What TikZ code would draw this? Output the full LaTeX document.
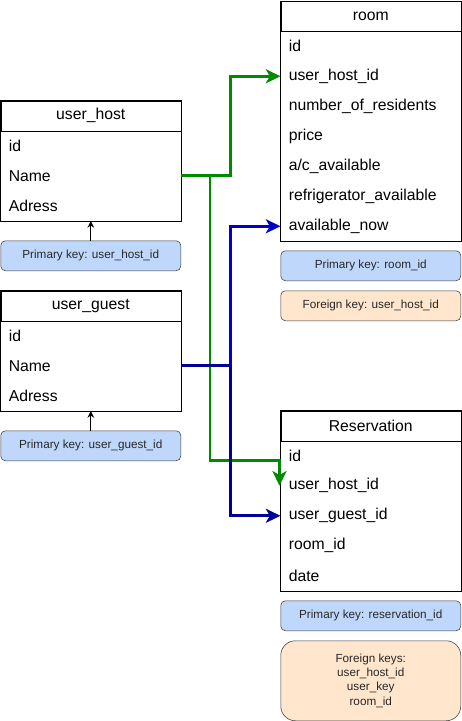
\documentclass[tikz,border=0pt]{standalone}
\usepackage{fontspec}
\setmainfont{Liberation Sans}
\usetikzlibrary{arrows.meta}

\definecolor{pkfill}{RGB}{190,215,251}
\definecolor{fkfill}{RGB}{255,230,204}
\definecolor{keyline}{RGB}{54,57,61}
\definecolor{keytext}{RGB}{40,40,40}
\definecolor{linkgreen}{RGB}{0,138,0}
\definecolor{linkblue}{RGB}{0,0,204}
\definecolor{linknavy}{RGB}{0,0,153}

\tikzset{
  tblhead/.style={draw, anchor=north west, minimum width=135pt, minimum height=22.5pt,
    inner sep=0pt, font=\fontsize{11.8}{13}\selectfont},
  tblrow/.style={anchor=north west, minimum height=22.5pt, inner ysep=0pt, inner xsep=6pt,
    text width=123pt, align=left, font=\fontsize{11.8}{13}\selectfont},
  pkbox/.style={draw=keyline, fill=pkfill, rounded corners=3.5pt, anchor=north west,
    minimum width=135pt, minimum height=22.5pt, inner sep=0pt, text=keytext,
    font=\fontsize{8.8}{10}\selectfont},
  fkbox/.style={pkbox, fill=fkfill},
  hostlink/.style={draw=linkgreen, line width=2pt, -{Stealth[length=11pt, width=10.5pt, inset=3pt]}},
  guestlink/.style={draw=linkblue, line width=2pt, -{Stealth[length=11pt, width=10.5pt, inset=3pt]}},
  keylink/.style={draw=black, line width=0.75pt, -{Stealth[length=5pt, width=5pt]}}
}

\begin{document}
\begin{tikzpicture}[x=0.75pt, y=-0.75pt]

\useasboundingbox (0,0) rectangle (461,721);

% room table
\node[tblhead] (room) at (280.5,1) {room};
\node[tblrow] (rmid) at (280.5,31) {id};
\node[tblrow] (rmhost) at (280.5,61) {user\_host\_id};
\node[tblrow] (rmres) at (280.5,91) {number\_of\_residents};
\node[tblrow] (rmprice) at (280.5,121) {price};
\node[tblrow] (rmac) at (280.5,151) {a/c\_available};
\node[tblrow] (rmfridge) at (280.5,181) {refrigerator\_available};
\node[tblrow] (rmavail) at (280.5,211) {available\_now};
\draw (room.north west) rectangle (rmavail.south east);

% room keys
\node[pkbox] (rmpk) at (280.5,250.5) {Primary key: room\_id};
\node[fkbox] (rmfk) at (280.5,290.5) {Foreign key: user\_host\_id};

% user_host table
\node[tblhead] (host) at (0.5,100.5) {user\_host};
\node[tblrow] (uhid) at (0.5,130.5) {id};
\node[tblrow] (uhname) at (0.5,160.5) {Name};
\node[tblrow] (uhaddr) at (0.5,190.5) {Adress};
\draw (host.north west) rectangle (uhaddr.south east);
\node[pkbox] (uhpk) at (0.5,240.5) {Primary key: user\_host\_id};

% user_guest table
\node[tblhead] (guest) at (0.5,290.5) {user\_guest};
\node[tblrow] (ugid) at (0.5,320.5) {id};
\node[tblrow] (ugname) at (0.5,350.5) {Name};
\node[tblrow] (ugaddr) at (0.5,380.5) {Adress};
\draw (guest.north west) rectangle (ugaddr.south east);
\node[pkbox] (ugpk) at (0.5,430.5) {Primary key: user\_guest\_id};

% Reservation table
\node[tblhead] (resv) at (280.5,410.5) {Reservation};
\node[tblrow] (rvid) at (280.5,440.5) {id};
\node[tblrow] (rvhost) at (280.5,470.5) {user\_host\_id};
\node[tblrow] (rvguest) at (280.5,500.5) {user\_guest\_id};
\node[tblrow] (rvroom) at (280.5,530.5) {room\_id};
\node[tblrow] (rvdate) at (280.5,560.5) {date};
\draw (resv.north west) rectangle (rvdate.south east);

% Reservation keys
\node[pkbox] (rvpk) at (280.5,600.5) {Primary key: reservation\_id};
\node[fkbox, rounded corners=11pt, minimum height=60pt, align=center,
  font=\fontsize{8.8}{10.6}\selectfont] (rvfk) at (280.5,640.5)
  {Foreign keys:\\user\_host\_id\\user\_key\\room\_id};

% primary key pointers
\draw[keylink] (uhpk.north) -- (uhaddr.south);
\draw[keylink] (ugpk.north) -- (ugaddr.south);

% host links
\coordinate (hostdrop) at (210,460.5);
\draw[hostlink] (uhname.east) -- ++(49.5,0) |- (rmhost.west);
\draw[hostlink] (uhname.east) -| (hostdrop) -| ([xshift=-0.75pt]rvhost.west);

% guest links
\draw[guestlink] (ugname.east) -- ++(49.5,0) |- (rmavail.west);
\draw[guestlink, draw=linknavy] (ugname.east) -- ++(49.5,0) |- (rvguest.west);

\end{tikzpicture}
\end{document}
